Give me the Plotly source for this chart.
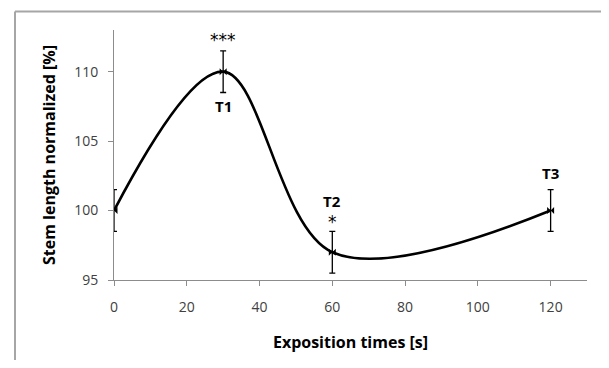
import plotly.graph_objects as go

times = [0, 30, 60, 120]
stem_length = [100, 110, 97, 100]
errors = [1.5, 1.5, 1.5, 1.5]

labels_text = ["***", "T1", "T2", "*", "T3"]
labels_x = [30, 30, 60, 60, 120]
labels_y = [112.3, 107.5, 100.7, 99.2, 102.7]
labels_bold = [False, True, True, False, True]

FONT = "'Open Sans', Lato, sans-serif"

fig = go.Figure()
fig.add_trace(go.Scatter(
    x=times, y=stem_length,
    mode="lines+markers",
    line=dict(color="black", width=2.6, shape="spline", smoothing=1.0),
    marker=dict(symbol="bowtie", size=7, color="black"),
    error_y=dict(type="data", array=errors, visible=True, color="black",
                 thickness=1.3, width=3),
    showlegend=False,
))

for t, xv, yv, b in zip(labels_text, labels_x, labels_y, labels_bold):
    fig.add_annotation(x=xv, y=yv, xref="x", yref="y", text=f"<b>{t}</b>" if b else t,
                       showarrow=False,
                       font=dict(family=FONT if b else "DejaVu Sans", size=15 if b else 17,
                                 color="black"))

# outer frame (top and left edges visible)
fig.add_shape(type="line", xref="paper", yref="paper",
              x0=-0.2093, x1=1.3, y0=1.074, y1=1.074,
              line=dict(color="#a6a6a6", width=2), layer="below")
fig.add_shape(type="line", xref="paper", yref="paper",
              x0=-0.2093, x1=-0.2093, y0=-0.7, y1=1.074,
              line=dict(color="#a6a6a6", width=2), layer="below")

fig.update_layout(
    width=593, height=352,
    margin=dict(l=106, r=14, t=22, b=80),
    paper_bgcolor="white", plot_bgcolor="white",
    font=dict(family=FONT, color="#404040"),
    xaxis=dict(range=[0, 130], tickvals=[0, 20, 40, 60, 80, 100, 120], automargin=False,
               showgrid=False, zeroline=False, showline=True, linecolor="#8c8c8c",
               linewidth=1, ticks="outside", ticklen=5, tickcolor="#8c8c8c",
               tickfont=dict(size=14, color="#404040"), ticklabelstandoff=9,
               title=dict(text="<b>Exposition times [s]</b>", standoff=22,
                          font=dict(size=16, color="black"))),
    yaxis=dict(range=[95, 113], tickvals=[95, 100, 105, 110], automargin=False,
               showgrid=False, zeroline=False, showline=True, linecolor="#8c8c8c",
               linewidth=1, ticks="outside", ticklen=5, tickcolor="#8c8c8c",
               tickfont=dict(size=14, color="#404040"), ticklabelstandoff=7,
               title=dict(text="<b>Stem length normalized [%]</b>", standoff=14,
                          font=dict(size=16, color="black"))),
)

fig.write_html("out.html")
